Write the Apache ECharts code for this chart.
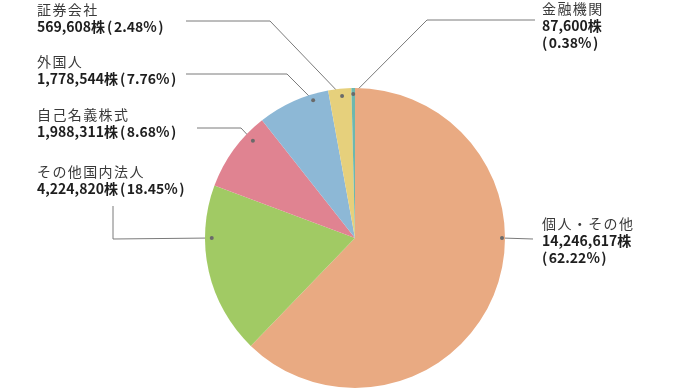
<!DOCTYPE html>
<html><head><meta charset="utf-8">
<script src="https://cdn.jsdelivr.net/npm/echarts@6/dist/echarts.min.js"></script>
<style>html,body{margin:0;padding:0;background:#fff}#c{width:690px;height:391px}</style>
</head><body><div id="c"></div>
<script>
// Data
const categories = ['個人・その他', 'その他国内法人', '自己名義株式', '外国人', '証券会社', '金融機関'];
const shares = [14246617, 4224820, 1988311, 1778544, 569608, 87600];
const percents = ['62.22', '18.45', '8.68', '7.76', '2.48', '0.38'];
const colors = ['#E9AA82', '#A1CA64', '#E08391', '#8DB8D6', '#E6D07C', '#6DB8AE'];

// Label placement (annotation layout)
const CX = 355, CY = 238, R = 150;
const anchorAngle = [90, 270, 313.6, 343.1, 354.8, 359.3]; // deg clockwise from top
const anchorRad = [0.98, 0.955, 0.94, 0.96, 0.95, 0.96];
const elbows = [[[533,239],[533,239]], [[113,239],[113,206]], [[241,128],[197,128]], [[287,74],[186,74]], [[270,21],[186,21]], [[427,20],[535,20]]];
const labelPos = [[542,215.5],[37,163.5],[37,106.5],[37,53.5],[37,1.5],[542,0.5]];
const threeLine = [true,false,false,false,false,true];

function anchor(i){
  const a = anchorAngle[i]*Math.PI/180, r = R*anchorRad[i];
  return [CX + r*Math.sin(a), CY - r*Math.cos(a)];
}
function fmt(n){ return n.toLocaleString('en-US'); }
function spaced(s){ return Array.from(s).map(ch=>'{n|'+ch+'}').join(''); }

const chart = echarts.init(document.getElementById('c'));
const data = categories.map((c,i)=>({name:c, value:shares[i], itemStyle:{color:colors[i]}}));
const F = 'Noto Sans CJK JP';
const vs = {fontFamily:F,fontSize:14,fontWeight:'bold',color:'#1e1e1e',lineHeight:17};
chart.setOption({
  animation:false,
  series:[{
    type:'pie',
    center:[CX,CY], radius:R,
    startAngle:90, clockwise:true,
    avoidLabelOverlap:false,
    data:data,
    emphasis:{disabled:true},
    label:{
      show:true,
      formatter:function(p){
        const i=p.dataIndex;
        const open = threeLine[i] ? '\n{q|(}' : '{p|(}';
        return spaced(categories[i])+'\n{v|'+fmt(shares[i])+'株}'+open+'{v|'+percents[i]+'%}{r|)}';
      },
      rich:{
        n:{fontFamily:F,fontSize:14,color:'#3a3a3a',lineHeight:17,width:15.4,align:'left'},
        v:vs,
        p:Object.assign({padding:[0,1.5,0,2]},vs),
        q:Object.assign({padding:[0,1.5,0,0]},vs),
        r:Object.assign({padding:[0,0,0,1.5]},vs)
      }
    },
    labelLine:{show:true,lineStyle:{color:'#7a7a7a',width:1}},
    labelLayout:function(p){
      const i=p.dataIndex;
      return {x:labelPos[i][0], y:labelPos[i][1], align:'left', verticalAlign:'top',
        labelLinePoints:[anchor(i), elbows[i][0], elbows[i][1]]};
    }
  }],
  graphic: categories.map((c,i)=>{const pt=anchor(i);return {type:'circle',shape:{cx:pt[0],cy:pt[1],r:2},style:{fill:'#6a6a6a'},z:100};})
});
</script></body></html>
